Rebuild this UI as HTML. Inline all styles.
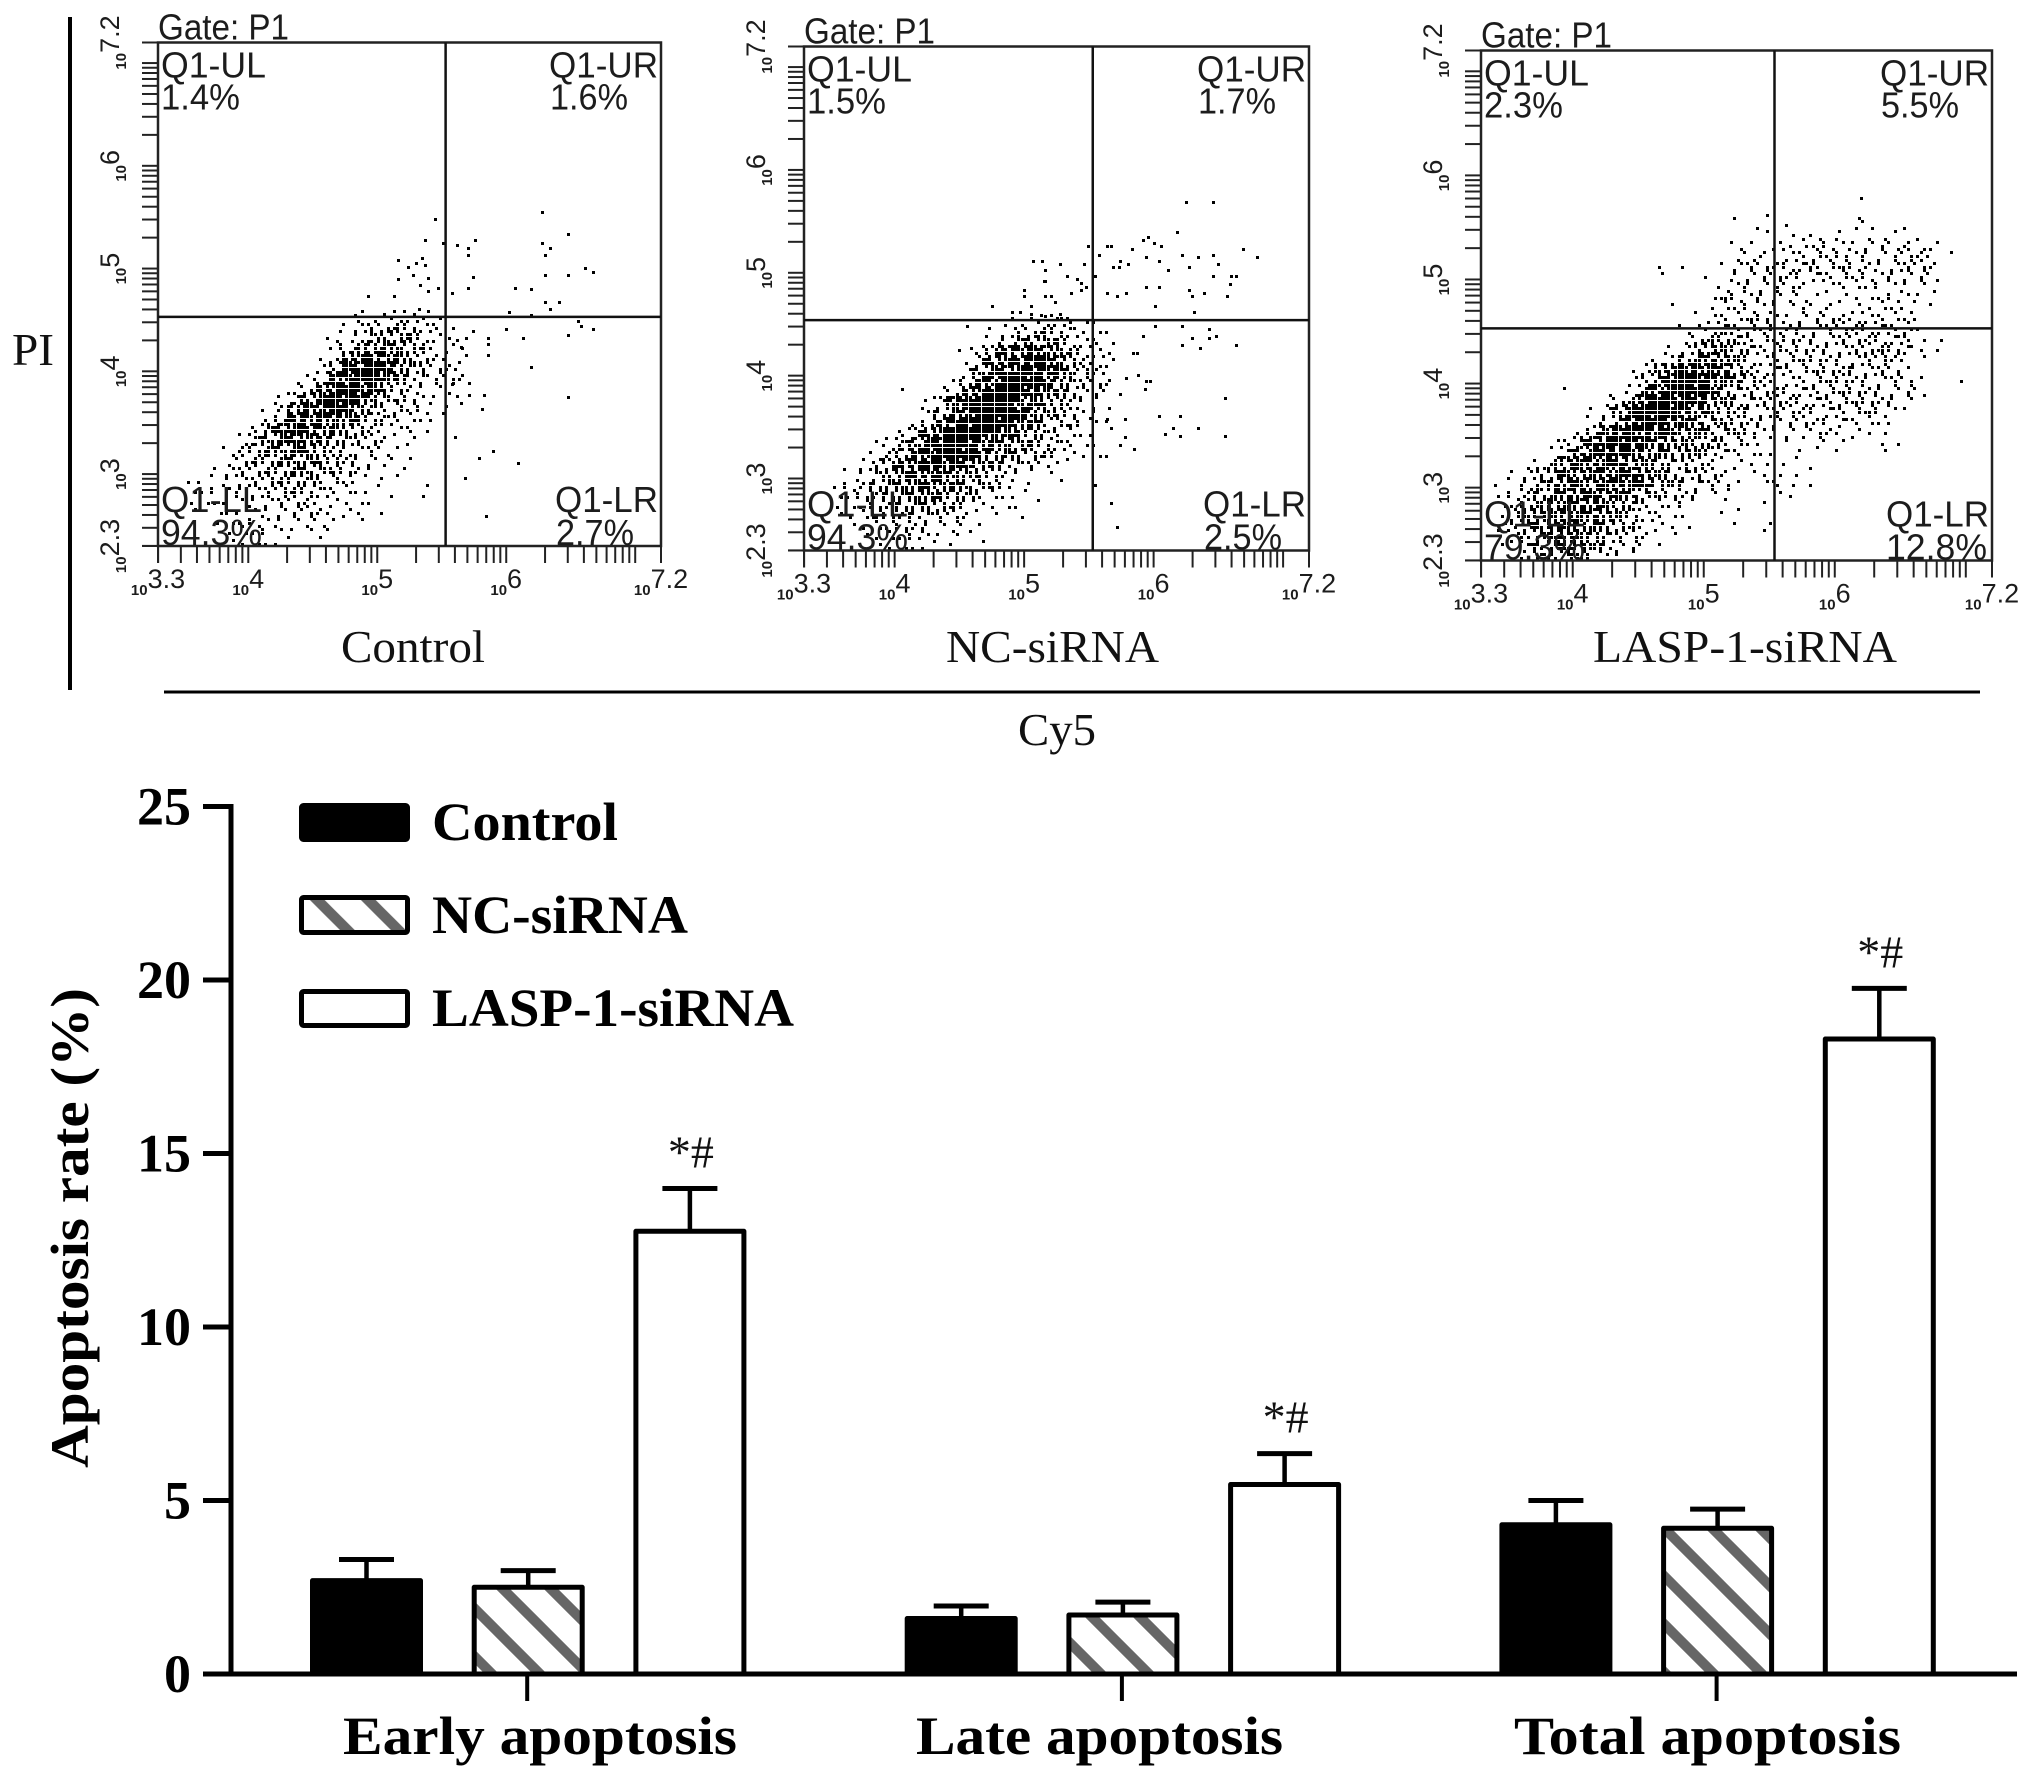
<!DOCTYPE html>
<html lang="en">
<head>
<meta charset="utf-8">
<title>Apoptosis flow cytometry and bar chart</title>
<style>
html,body{margin:0;padding:0;background:#fff;}
svg{display:block;}
.sans{font-family:"Liberation Sans",sans-serif;fill:#1c1c1c;}
.serif{font-family:"Liberation Serif",serif;fill:#111;}
.bold{font-family:"Liberation Serif",serif;font-weight:bold;fill:#000;}
</style>
</head>
<body>
<svg id="figure" xmlns="http://www.w3.org/2000/svg" width="2031" height="1779" viewBox="0 0 2031 1779">
  <rect x="0" y="0" width="2031" height="1779" fill="#fff"/>
  <defs>
    <pattern id="hatch0" patternUnits="userSpaceOnUse" width="48" height="48" patternTransform="translate(18 0)"><path d="M-12,-12L60,60M-60,-12L12,60M36,-12L108,60" stroke="#666" stroke-width="10" fill="none"/></pattern>
    <pattern id="hatch1" patternUnits="userSpaceOnUse" width="48" height="48" patternTransform="translate(3 0)"><path d="M-12,-12L60,60M-60,-12L12,60M36,-12L108,60" stroke="#666" stroke-width="10" fill="none"/></pattern>
    <pattern id="hatch2" patternUnits="userSpaceOnUse" width="48" height="48" patternTransform="translate(40 0)"><path d="M-12,-12L60,60M-60,-12L12,60M36,-12L108,60" stroke="#666" stroke-width="10" fill="none"/></pattern>
    <pattern id="hatchLegend" patternUnits="userSpaceOnUse" width="51" height="51" patternTransform="translate(29.3 0)"><path d="M-12,-12L63,63M-63,-12L12,63M39,-12L114,63" stroke="#666" stroke-width="10.5" fill="none"/></pattern>
  </defs>

  <g id="flow-panels"></g>

  <line x1="70" y1="17" x2="70" y2="690" stroke="#000" stroke-width="4"/>
  <line x1="164" y1="692" x2="1980" y2="692" stroke="#000" stroke-width="3"/>
  <text class="serif" x="12" y="365" font-size="46" textLength="42" lengthAdjust="spacingAndGlyphs">PI</text>
  <text class="serif" x="1018" y="745" font-size="46" textLength="78" lengthAdjust="spacingAndGlyphs">Cy5</text>
  <text class="serif" x="341" y="662" font-size="46" textLength="144" lengthAdjust="spacingAndGlyphs">Control</text>
  <text class="serif" x="946" y="662" font-size="46" textLength="213" lengthAdjust="spacingAndGlyphs">NC-siRNA</text>
  <text class="serif" x="1593" y="662" font-size="46" textLength="304" lengthAdjust="spacingAndGlyphs">LASP-1-siRNA</text>

  <g id="bar-chart"></g>

  <text class="bold" transform="translate(88 1468) rotate(-90)" font-size="54" textLength="480" lengthAdjust="spacingAndGlyphs">Apoptosis rate (%)</text>

  <g>
    <rect x="301.5" y="805.5" width="106" height="34" rx="2" fill="#000" stroke="#000" stroke-width="5" stroke-linejoin="round"/>
    <text class="bold" x="432" y="840" font-size="54" textLength="186" lengthAdjust="spacingAndGlyphs">Control</text>
    <rect x="301.5" y="897.5" width="106" height="35" rx="2" fill="url(#hatchLegend)" stroke="#000" stroke-width="5" stroke-linejoin="round"/>
    <text class="bold" x="432" y="933" font-size="54" textLength="256" lengthAdjust="spacingAndGlyphs">NC-siRNA</text>
    <rect x="301.5" y="991.5" width="106" height="34" rx="2" fill="#fff" stroke="#000" stroke-width="5" stroke-linejoin="round"/>
    <text class="bold" x="432" y="1026" font-size="54" textLength="362" lengthAdjust="spacingAndGlyphs">LASP-1-siRNA</text>
  </g>
</svg>

<script>
// ---------- Bar chart data ----------
const categories = ['Early apoptosis', 'Late apoptosis', 'Total apoptosis'];
const seriesNames = ['control', 'nc-sirna', 'lasp-sirna'];
const controlValues = [2.69, 1.6, 4.3];
const ncValues = [2.5, 1.7, 4.2];
const laspValues = [12.76, 5.46, 18.3];
const controlErrorTops = [3.3, 1.96, 5.0];
const ncErrorTops = [2.98, 2.07, 4.75];
const laspErrorTops = [13.99, 6.35, 19.76];
const significanceLabels = ['*#', '*#', '*#'];
const yTickValues = [0, 5, 10, 15, 20, 25];

// ---------- Flow cytometry data (log10 decades) ----------
const xDecadeTicks = [3.3, 4, 5, 6, 7.2];
const xDecadeLabels = ['3.3', '4', '5', '6', '7.2'];
const yDecadeTicks = [2.3, 3, 4, 5, 6, 7.2];
const yDecadeLabels = ['2.3', '3', '4', '5', '6', '7.2'];

// Density rows: each hex digit = events per 0.1x0.1 decade cell; first column x=3.3, first row y=top value.
const controlTopRow = 4.5;
const controlDensity = [
"0000000000000001012211000",
"0000000000000012324422100",
"0000000000000112455532110",
"0000000000000225777542110",
"0000000000001158998532210",
"00000000000013a9cb8642210",
"00000000000128abca7542220",
"0000000000126abba6432210",
"0000000001369bba95332110",
"0000000013799ba853322110",
"00000000139a9a8754322110",
"0000000269a9985532221000",
"000000136899765432110000",
"00000135678764333111000",
"0000013456776543211100",
"00001233456654332101000",
"00111233445543211110000",
"00112233344432211100100",
"00111122333322111010100",
"00101112222322110100000",
"00001112222111110000000",
"00000122221211000000000",
"00000111111010000000000"
];
const controlSparseX = [6.28,5.45,6.48,5.37,5.76,5.51,5.62,6.28,6.34,5.7,5.7,6.3,5.16,5.35,5.3,5.24,5.37,6.61,6.67,6.48,6.3,5.74,5.16,5.28,5.39,5.7,6.07,6.19,5.47,5.58,5.33,5.39,4.93,5.13,6.3,6.41,6.34,5.32,5.39,6.02,6.19,4.83,6.56,6.58,6.67,6.0,6.48,6.13,5.74,5.86,5.86,5.86,5.62,5.65,6.19,6.48,5.83,5.71,5.71,5.81,5.65,5.6,5.9,5.79,6.09,5.68,5.84,5.6,5.58,5.62];
const controlSparseY = [5.55,5.48,5.34,5.28,5.28,5.25,5.23,5.25,5.2,5.2,5.13,5.13,5.08,5.1,5.05,5.02,5.03,5.01,4.97,4.94,4.94,4.92,4.9,4.94,4.91,4.81,4.81,4.8,4.81,4.76,4.84,4.78,4.73,4.73,4.67,4.67,4.61,4.61,4.59,4.58,4.55,4.55,4.49,4.44,4.41,4.41,4.35,4.32,4.39,4.32,4.27,4.16,4.3,4.24,4.04,3.75,3.77,3.89,3.77,3.63,3.69,3.36,3.22,3.16,3.11,2.96,2.59,4.02,3.88,3.76];

const ncTopRow = 4.5;
const ncDensity = [
"0000000000000000112321100",
"0000000000000011324431110",
"0000000000000013566532210",
"000000000000025899874321",
"00000000000013789bb85322",
"0000000000001689abba7432",
"000000000001479bcba75322",
"00000000001269bcca965321",
"00000000013aabcca8654210",
"0000000002579bccb9654221",
"000000001369bccba7543221",
"00000002479cccb97643211",
"0000012479bcba8765432110",
"000001358abcb987654321110",
"000013579aba976543211000",
"00012457899865432101000",
"001235678887654311010000",
"001234567776542111000000",
"0011234566543211101000",
"0011233454432110100000",
"0001122333211100000000",
"0000112232121000000000",
"0000011111110100000000"
];
const ncSparseX = [6.25,6.46,6.18,5.96,5.92,6.0,6.06,5.49,5.64,5.67,5.83,6.69,6.8,5.58,6.22,6.46,6.34,5.94,6.04,5.74,6.5,5.8,5.69,5.73,6.27,6.11,5.07,5.14,5.28,5.46,5.16,5.33,5.55,5.41,6.46,6.6,6.64,6.59,5.15,5.16,5.44,5.94,6.04,5.0,5.36,5.44,5.48,6.27,5.64,5.72,5.79,6.3,6.39,6.57,5.16,5.21,5.24,5.0,6.01,4.75,5.05,6.31,4.91,4.97,5.05,5.16,5.28,6.01,6.22,6.43,6.48,6.43,5.92,6.3,6.22,6.36,6.64,5.84,5.87,4.56,4.5,4.59,5.79,5.88,5.94,5.97,5.93,5.74,6.55,4.06,6.04,6.2,5.78,5.64,5.67,6.15,6.09,6.34,6.2,6.55,5.78,5.74,5.85,5.67,5.72,5.55];
const ncSparseY = [5.69,5.69,5.4,5.35,5.32,5.29,5.26,5.26,5.26,5.26,5.23,5.23,5.15,5.17,5.17,5.17,5.15,5.15,5.11,5.11,5.09,5.09,5.06,5.06,5.06,5.03,5.11,5.11,5.09,5.09,5.03,4.97,4.97,4.94,4.97,4.97,4.97,4.89,4.92,4.92,4.9,4.86,4.86,4.83,4.8,4.83,4.86,4.83,4.8,4.77,4.8,4.77,4.8,4.77,4.77,4.77,4.72,4.77,4.68,4.68,4.68,4.62,4.62,4.62,4.6,4.58,4.6,4.48,4.48,4.45,4.39,4.37,4.39,4.37,4.3,4.27,4.3,4.22,4.22,4.48,4.25,4.27,3.98,4.01,3.95,3.95,3.87,3.82,3.78,3.87,3.61,3.61,3.58,3.58,3.49,3.49,3.43,3.49,3.41,3.41,3.4,3.33,3.29,2.76,2.53,2.94];

const laspTopRow = 5.6;
const laspDensity = [
"0000000000000000000001000000000000000",
"0000000000000000000100010000110000000",
"0000000000000000000002010101110110000",
"0000000000000000000110112222122121100",
"0000000000000000000112122323232233210",
"0000000000000101001232233433232233200",
"0000000000000100010222233323222332100",
"0000000000000000001232222122222222100",
"0000000000000000013223211111111221100",
"0000000000000010012222222121112211100",
"0000000000000000112233212222222221000",
"0000000000000001123232233233333221000",
"0000000000000001245433233323333331010",
"0000000000000012466542323333334431100",
"0000000000000125787532333333344321000",
"0000000000012589a985323333334332100",
"00000000000136acbb87532223343333210010",
"00000010000269bcba6433233333333221",
"000000000124abbba76443333333333321",
"00000000126abcba765443333333332210",
"00000000135abba975443332323322210",
"0000000148abb9987554322212221110",
"000001259abba8765543211211111011",
"000001379aa98767653211101101001",
"0000148999877654321111011000",
"0012468889998654432111101100",
"0113578889a98664432101210100",
"0124678898975433321000110",
"0124688887653222101001",
"0135778887652211001100",
"0135788876542211000100100",
"0124688875432110000001",
"0113578765321100000",
"0002445422210000"
];
const laspSparseX = [6.2];
const laspSparseY = [5.78];

const panelKeys = ['control', 'nc-sirna', 'lasp-sirna'];
const panelDensity = [controlDensity, ncDensity, laspDensity];
const panelTopRow = [controlTopRow, ncTopRow, laspTopRow];
const panelSparseX = [controlSparseX, ncSparseX, laspSparseX];
const panelSparseY = [controlSparseY, ncSparseY, laspSparseY];
const quadrantGateX = [5.53, 5.53, 5.54];
const quadrantGateY = [4.53, 4.54, 4.53];
const percentUL = ['1.4%', '1.5%', '2.3%'];
const percentUR = ['1.6%', '1.7%', '5.5%'];
const percentLL = ['94.3%', '94.3%', '79.3%'];
const percentLR = ['2.7%', '2.5%', '12.8%'];

// ---------- Layout ----------
const panelBoxes = [
  {x: 158, y: 42.5, w: 503, h: 503.5},
  {x: 804, y: 46.5, w: 505, h: 504},
  {x: 1481, y: 50.5, w: 511, h: 510}
];
const NS = 'http://www.w3.org/2000/svg';
function make(tag, parent, attrs, text) {
  const node = document.createElementNS(NS, tag);
  for (const k in attrs) node.setAttribute(k, attrs[k]);
  if (text !== undefined) node.textContent = text;
  parent.appendChild(node);
  return node;
}
const SUB_ORDER = [0, 6, 9, 3, 10, 5, 1, 8, 4, 11, 2, 7];

// ---------- Flow panels ----------
const flowRoot = document.getElementById('flow-panels');
panelKeys.forEach(function (key, p) {
  const b = panelBoxes[p];
  const xS = function (d) { return b.x + (d - 3.3) / 3.9 * b.w; };
  const yS = function (d) { return b.y + b.h - (d - 2.3) / 4.9 * b.h; };
  const g = make('g', flowRoot, {});
  
  

  // events: density cells
  const dots = make('g', g, {fill: '#000'});
  
  
  const cellW = xS(3.4) - xS(3.3);
  const cellH = yS(3.3) - yS(3.4);
  panelDensity[p].forEach(function (row, r) {
    const yVal = panelTopRow[p] - r * 0.1;
    for (let c = 0; c < row.length; c++) {
      const n = parseInt(row[c], 16);
      const start = (c * 5 + r * 7) % 12;
      for (let i = 0; i < n; i++) {
        const s = SUB_ORDER[(start + i) % 12];
        const dx = Math.round((s % 4) * cellW / 4);
        const dy = Math.round(Math.floor(s / 4) * cellH / 3);
        const dot = make('rect', dots, {x: Math.round(xS(3.3 + c * 0.1)) + dx, y: Math.round(yS(yVal + 0.1)) + dy, width: 3, height: 3});
        
        
      }
    }
  });
  // events: individually read sparse points
  panelSparseX[p].forEach(function (vx, i) {
    const dot = make('rect', dots, {x: Math.round(xS(vx)) - 1, y: Math.round(yS(panelSparseY[p][i])) - 1, width: 3, height: 3});
    
    
  });

  // log ticks
  const ticks = make('g', g, {stroke: '#222', 'stroke-width': 2});
  
  
  for (let dec = 2; dec <= 7; dec++) {
    for (let m = 1; m <= 9; m++) {
      const v = dec + Math.log10(m);
      if (v >= 3.3 && v <= 7.2) make('line', ticks, {x1: xS(v), x2: xS(v), y1: b.y + b.h, y2: b.y + b.h + 17});
      if (v >= 2.3 && v <= 7.2) make('line', ticks, {x1: b.x - 16, x2: b.x, y1: yS(v), y2: yS(v)});
    }
  }
  make('line', ticks, {x1: xS(3.3), x2: xS(3.3), y1: b.y + b.h, y2: b.y + b.h + 17});
  make('line', ticks, {x1: xS(7.2), x2: xS(7.2), y1: b.y + b.h, y2: b.y + b.h + 17});
  make('line', ticks, {x1: b.x - 16, x2: b.x, y1: yS(2.3), y2: yS(2.3)});
  make('line', ticks, {x1: b.x - 16, x2: b.x, y1: yS(7.2), y2: yS(7.2)});

  // frame and gates
  const frame = make('rect', g, {x: b.x, y: b.y, width: b.w, height: b.h, fill: 'none', stroke: '#222', 'stroke-width': 2.5});
  
  
  const vg = make('line', g, {x1: xS(quadrantGateX[p]), x2: xS(quadrantGateX[p]), y1: b.y, y2: b.y + b.h, stroke: '#111', 'stroke-width': 2.5});
  
  
  const hg = make('line', g, {x1: b.x, x2: b.x + b.w, y1: yS(quadrantGateY[p]), y2: yS(quadrantGateY[p]), stroke: '#111', 'stroke-width': 2.5});
  
  

  // tick labels
  xDecadeTicks.forEach(function (v, i) {
    const t = make('text', g, {'class': 'sans', x: xS(v), y: b.y + b.h + 49, 'text-anchor': 'middle'});
    
    
    make('tspan', t, {'font-size': 15, 'font-weight': 'bold'}, '10');
    make('tspan', t, {'font-size': 27, dy: -7}, xDecadeLabels[i]);
  });
  yDecadeTicks.forEach(function (v, i) {
    const t = make('text', g, {'class': 'sans', transform: 'translate(' + (b.x - 32) + ' ' + yS(v) + ') rotate(-90)', 'text-anchor': 'middle'});
    
    
    make('tspan', t, {'font-size': 15, 'font-weight': 'bold'}, '10');
    make('tspan', t, {'font-size': 27, dy: -7}, yDecadeLabels[i]);
  });

  // quadrant text
  const labels = [
    ['Gate: P1', 0, -3, 131, 'gate-label'],
    ['Q1-UL', 3, 35, 105, 'quadrant-ul-name'],
    [percentUL[p], 3, 67, 79, 'quadrant-ul-percent'],
    ['Q1-UR', b.w - 112, 35, 109, 'quadrant-ur-name'],
    [percentUR[p], b.w - 111, 67, 78, 'quadrant-ur-percent'],
    ['Q1-LL', 3, b.h - 34, 101, 'quadrant-ll-name'],
    [percentLL[p], 3, b.h - 1, 101, 'quadrant-ll-percent'],
    ['Q1-LR', b.w - 106, b.h - 34, 103, 'quadrant-lr-name'],
    [percentLR[p], percentLR[p].length > 4 ? b.w - 106 : b.w - 105, b.h - 1, percentLR[p].length > 4 ? 101 : 78, 'quadrant-lr-percent']
  ];
  labels.forEach(function (l) {
    const t = make('text', g, {'class': 'sans', x: b.x + l[1], y: b.y + l[2], 'font-size': 36, textLength: l[3], lengthAdjust: 'spacingAndGlyphs'}, l[0]);
    
    
  });
});

// ---------- Bar chart ----------
const chartRoot = document.getElementById('bar-chart');
const yBase = 1674;
const unit = 34.7;
function yScale(v) { return yBase - v * unit; }
function groupCenter(g) { return 528.2 + g * 594.7; }
function barCenter(g, s) { return groupCenter(g) + (s - 1) * 161.7; }
const BAR_W = 108;
const barValues = [controlValues, ncValues, laspValues];
const errorTops = [controlErrorTops, ncErrorTops, laspErrorTops];

categories.forEach(function (cat, g) {
  seriesNames.forEach(function (name, s) {
    const cx = barCenter(g, s);
    const top = yScale(barValues[s][g]);
    const errTop = yScale(errorTops[s][g]);
    const el1 = make('line', chartRoot, {x1: cx, x2: cx, y1: top, y2: errTop, stroke: '#000', 'stroke-width': 4.5});
    
    
    const el2 = make('line', chartRoot, {x1: cx - 27.5, x2: cx + 27.5, y1: errTop, y2: errTop, stroke: '#000', 'stroke-width': 5});
    
    
    const fill = s === 0 ? '#000' : (s === 1 ? 'url(#hatch' + g + ')' : '#fff');
    const bar = make('rect', chartRoot, {x: cx - BAR_W / 2, y: top, width: BAR_W, height: yBase - top, fill: fill, stroke: '#000', 'stroke-width': 5, 'stroke-linejoin': 'round'});
    
    
  });
  // significance
  const sig = make('text', chartRoot, {'class': 'serif', x: barCenter(g, 2) + 1, y: yScale(errorTops[2][g]) - 21, 'font-size': 46, 'text-anchor': 'middle'}, significanceLabels[g]);
  
  
  // x tick + label
  const cx = groupCenter(g) - 1;
  const tick = make('line', chartRoot, {x1: cx, x2: cx, y1: yBase, y2: 1701, stroke: '#000', 'stroke-width': 4});
  
  
  const widths = [394, 367, 387];
  const lab = make('text', chartRoot, {'class': 'bold', x: [343, 916, 1514][g], y: 1754, 'font-size': 54, textLength: widths[g], lengthAdjust: 'spacingAndGlyphs'}, cat);
  
  
});

const yAxis = make('line', chartRoot, {x1: 231, x2: 231, y1: yScale(25) - 2.5, y2: yBase, stroke: '#000', 'stroke-width': 5});


const xAxis = make('line', chartRoot, {x1: 203, x2: 2017, y1: yBase, y2: yBase, stroke: '#000', 'stroke-width': 5});


yTickValues.forEach(function (v) {
  const t = make('line', chartRoot, {x1: 203, x2: 231, y1: yScale(v), y2: yScale(v), stroke: '#000', 'stroke-width': 5});
  
  
  const l = make('text', chartRoot, {'class': 'bold', x: 191, y: yScale(v) + 18, 'font-size': 54, 'text-anchor': 'end'}, String(v));
  
  
});
</script>
</body>
</html>
